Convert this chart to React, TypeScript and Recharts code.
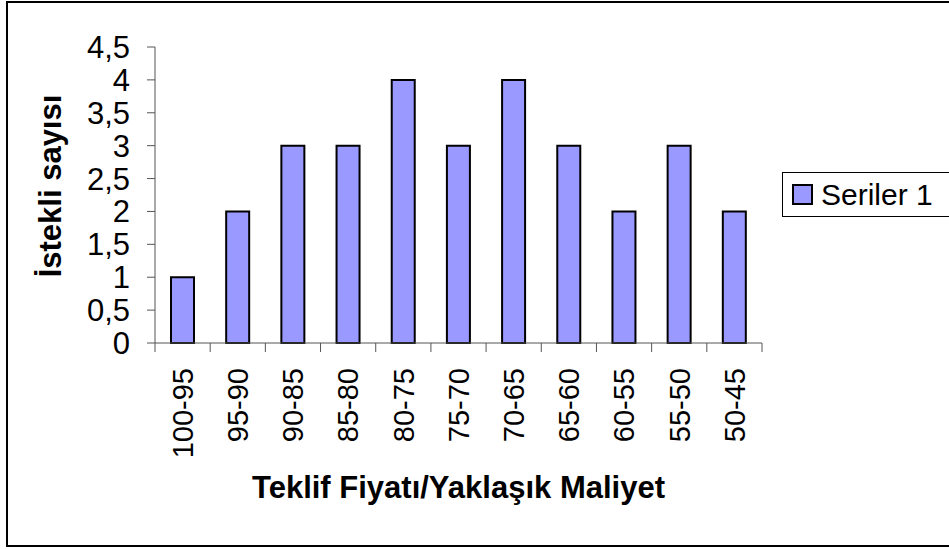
import React from 'react';
import { BarChart, Bar, XAxis, YAxis, Legend } from 'recharts';

// teklif fiyatı / yaklaşık maliyet aralıkları
const categories = ['100-95', '95-90', '90-85', '85-80', '80-75', '75-70', '70-65', '65-60', '60-55', '55-50', '50-45'];
const seriler1 = [1, 2, 3, 3, 4, 3, 4, 3, 2, 3, 2];
const yTicks = [0, 0.5, 1, 1.5, 2, 2.5, 3, 3.5, 4, 4.5];

const seriesName = 'Seriler 1';
const xTitle = 'Teklif Fiyatı/Yaklaşık Maliyet';
const yTitle = 'İstekli sayısı';

const FONT = '"Liberation Sans", Arial, sans-serif';
const AXIS = '#555';
const BAR = '#9999FF';

const data = categories.map((c, i) => ({ range: c, value: seriler1[i] }));

const XTick = (props: any) => {
    const { x, y, payload, index, visibleTicksCount, width } = props;
    const band = width / visibleTicksCount;
    return (
        <g>
            <line x1={x - band / 2} x2={x - band / 2} y1={y} y2={y + 9} stroke={AXIS} />
            {index === visibleTicksCount - 1 && (
                <line x1={x + band / 2} x2={x + band / 2} y1={y} y2={y + 9} stroke={AXIS} />
            )}
            <text
                transform={`translate(${x},${y + 25}) rotate(-90)`}
                textAnchor="end"
                dy="0.355em"
                fontSize={29}
                fontFamily={FONT}
                fill="#000"
            >
                {payload.value}
            </text>
        </g>
    );
};

const YLabel = (props: any) => {
    const { x, y, width, height } = props.viewBox;
    const cx = x + width - 105;
    const cy = y + height / 2 - 9;
    return (
        <text
            transform={`translate(${cx},${cy}) rotate(-90)`}
            textAnchor="middle"
            dy="0.355em"
            fontSize={31}
            fontWeight="bold"
            fontFamily={FONT}
            fill="#000"
        >
            {yTitle}
        </text>
    );
};

const XLabel = (props: any) => {
    const { x, y, width } = props.viewBox;
    return (
        <text
            x={x + width / 2}
            y={y + 144}
            textAnchor="middle"
            dy="0.355em"
            fontSize={31}
            fontWeight="bold"
            fontFamily={FONT}
            fill="#000"
        >
            {xTitle}
        </text>
    );
};

const LegendBox = () => (
    <div
        style={{
            border: '1.5px solid #000',
            width: 170,
            height: 45,
            boxSizing: 'border-box',
            display: 'flex',
            alignItems: 'center',
            paddingLeft: 9,
            fontFamily: FONT,
            fontSize: 30,
            background: '#fff',
        }}
    >
        <span style={{ width: 17, height: 17, background: BAR, border: '2px solid #000', marginRight: 8, display: 'inline-block' }} />
        <span style={{ lineHeight: '30px' }}>{seriesName}</span>
    </div>
);

export default function App() {
    return (
        <div style={{ position: 'absolute', left: 0, top: 0, width: 949, height: 549, background: '#fff', overflow: 'hidden' }}>
            <div
                style={{
                    position: 'absolute',
                    left: 6,
                    top: 1,
                    width: 960,
                    height: 542,
                    border: '2px solid #000',
                }}
            />
            <BarChart
                width={949}
                height={549}
                data={data}
                margin={{ top: 47, right: 187, bottom: 66, left: 95 }}
                barSize={23}
            >
                <XAxis
                    dataKey="range"
                    height={140}
                    interval={0}
                    tickLine={false}
                    tickSize={0}
                    tickMargin={0}
                    axisLine={{ stroke: AXIS }}
                    tick={<XTick />}
                    label={<XLabel />}
                />
                <YAxis
                    width={60}
                    domain={[0, 4.5]}
                    ticks={yTicks}
                    interval={0}
                    tickSize={8}
                    tickMargin={17}
                    tickLine={{ stroke: AXIS }}
                    axisLine={{ stroke: AXIS }}
                    tickFormatter={(v: number) => String(v).replace('.', ',')}
                    tick={{ fontSize: 31, fill: '#000', fontFamily: FONT }}
                    label={<YLabel />}
                />
                <Legend
                    layout="vertical"
                    align="center"
                    verticalAlign="middle"
                    wrapperStyle={{ left: 782, top: 172, width: 170 }}
                    content={<LegendBox />}
                />
                <Bar dataKey="value" name={seriesName} fill={BAR} stroke="#000" strokeWidth={2} isAnimationActive={false} />
            </BarChart>
        </div>
    );
}
